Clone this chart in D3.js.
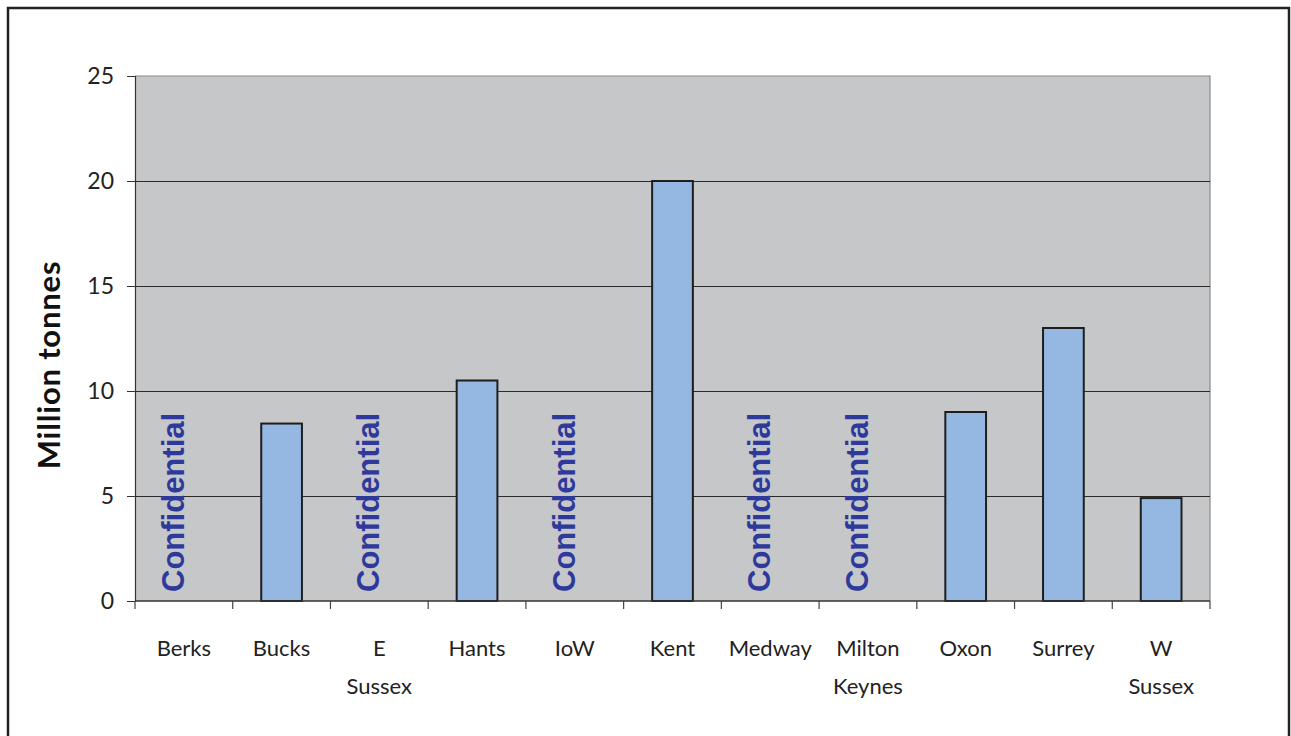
<!DOCTYPE html>
<html><head><meta charset="utf-8">
<script src="https://cdn.jsdelivr.net/npm/d3@7"></script>
<style>body{margin:0;background:#fff}svg{display:block}</style>
</head><body>
<svg id="c" width="1291" height="736"></svg>
<script>
const categories = [["Berks"],["Bucks"],["E","Sussex"],["Hants"],["IoW"],["Kent"],["Medway"],["Milton","Keynes"],["Oxon"],["Surrey"],["W","Sussex"]];
const values = [null, 8.45, null, 10.5, null, 20, null, null, 9, 13, 4.9];
const yTicks = [0,5,10,15,20,25];
const yTitle = "Million tonnes";
const confidentialLabel = "Confidential";

const svg = d3.select("#c");
const M = {l:135, r:1210, t:76, b:601};
const labelFont = "'Lato','Open Sans',sans-serif";

svg.append("rect").attr("x",8).attr("y",8).attr("width",1281).attr("height",760)
  .attr("fill","#fff").attr("stroke","#222").attr("stroke-width",2.5);

const x = d3.scaleBand().domain(categories.map((c,i)=>i)).range([M.l,M.r]).paddingInner(0).paddingOuter(0);
const y = d3.scaleLinear().domain([0,25]).range([M.b,M.t]);

svg.append("rect").attr("x",M.l).attr("y",M.t).attr("width",M.r-M.l).attr("height",M.b-M.t)
  .attr("fill","#c6c7c9");
svg.append("path").attr("d",`M${M.l},${M.t}H${M.r}V${M.b}`).attr("fill","none").attr("stroke","#8a8a8a").attr("stroke-width",1.2);

svg.append("g").selectAll("line").data(yTicks.filter(t=>t>0&&t<25)).join("line")
  .attr("x1",M.l).attr("x2",M.r).attr("y1",d=>Math.round(y(d))+0.5).attr("y2",d=>Math.round(y(d))+0.5)
  .attr("stroke","#2a2a2a").attr("stroke-width",1);

const bw = x.bandwidth()/2.4;
svg.append("g").selectAll("rect").data(values.map((v,i)=>({v,i})).filter(d=>d.v!=null)).join("rect")
  .attr("x",d=>x(d.i)+x.bandwidth()/2-bw/2).attr("width",bw)
  .attr("y",d=>y(d.v)).attr("height",d=>y(0)-y(d.v))
  .attr("fill","#95b8e2").attr("stroke","#1e1e1e").attr("stroke-width",2);

svg.append("g").selectAll("text").data(values.map((v,i)=>({v,i})).filter(d=>d.v==null)).join("text")
  .attr("transform",d=>`translate(${x(d.i)+x.bandwidth()/2},${592}) rotate(-90)`)
  .attr("font-family","'Liberation Sans',Arial,sans-serif").attr("font-weight","bold")
  .attr("font-size",31).attr("fill","#2e3a9b").text(confidentialLabel);

const yAxis = d3.axisLeft(y).tickValues(yTicks).tickSize(8).tickPadding(13);
const gy = svg.append("g").attr("transform",`translate(${M.l},0)`).call(yAxis);
gy.select(".domain").attr("stroke","#333").attr("stroke-width",1.2);
gy.selectAll(".tick line").attr("stroke","#333");
gy.selectAll("text").attr("font-family",labelFont).attr("font-size",23).attr("fill","#222");

const gx = svg.append("g").attr("transform",`translate(0,${M.b})`);
gx.append("line").attr("x1",M.l).attr("x2",M.r).attr("stroke","#333").attr("stroke-width",1.5);
gx.selectAll(".tk").data(d3.range(categories.length+1)).join("line").attr("class","tk")
  .attr("x1",i=>i<categories.length?x(i):M.r).attr("x2",i=>i<categories.length?x(i):M.r)
  .attr("y1",0).attr("y2",8).attr("stroke","#444").attr("stroke-width",1.2);
const xl = gx.selectAll(".lbl").data(categories).join("text").attr("class","lbl")
  .attr("text-anchor","middle").attr("font-family",labelFont).attr("font-size",22).attr("fill","#222");
xl.each(function(c,i){
  const t=d3.select(this);
  c.forEach((s,j)=>t.append("tspan").attr("x",x(i)+x.bandwidth()/2).attr("y",55+j*38).text(s));
});

svg.append("text").attr("transform",`translate(60,${365}) rotate(-90)`).attr("text-anchor","middle")
  .attr("font-family","'Lato','Open Sans',sans-serif").attr("font-weight","bold").attr("font-size",31)
  .attr("letter-spacing",0.8).attr("fill","#111").text(yTitle);
</script>
</body></html>
